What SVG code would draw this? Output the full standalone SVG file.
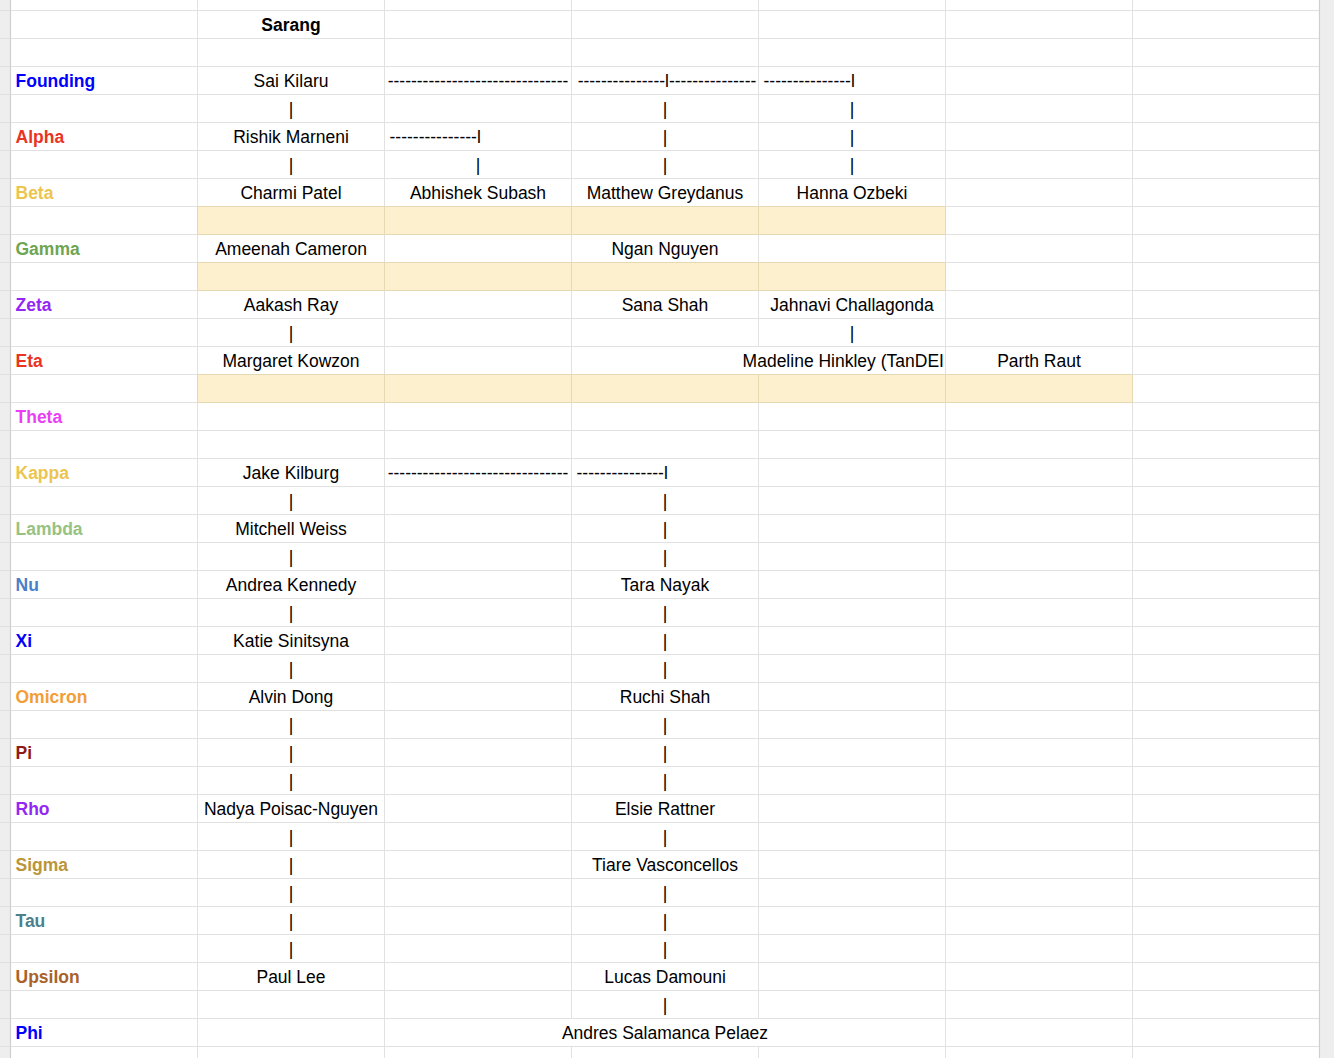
<svg xmlns="http://www.w3.org/2000/svg" width="1334" height="1058" viewBox="0 0 1334 1058">
<style>
text{font-family:"Liberation Sans",Arial,Helvetica,sans-serif;font-size:17.5px;fill:#000}
.n{text-anchor:middle}
.s{text-anchor:start}
.lb{font-weight:bold}
.grid{stroke:#e1e1e1;stroke-width:1;fill:none}
.edge{stroke:#cfcfcf;stroke-width:1.2;fill:none}
.hl{fill:#fcf0cf;stroke:#e6d8b0;stroke-width:1}
</style>
<defs>
<clipPath id="clipEta"><rect x="571.5" y="346.5" width="374" height="28"/></clipPath>
</defs>
<rect x="0" y="0" width="1334" height="1058" fill="#ffffff"/>
<rect x="0" y="0" width="10.5" height="1058" fill="#eeeeee"/>
<rect x="1319.5" y="0" width="14.5" height="1058" fill="#eeeeee"/>
<g id="highlights">
<rect class="hl" x="197.5" y="206.5" width="187" height="28"/>
<rect class="hl" x="384.5" y="206.5" width="187" height="28"/>
<rect class="hl" x="571.5" y="206.5" width="187" height="28"/>
<rect class="hl" x="758.5" y="206.5" width="187" height="28"/>
<rect class="hl" x="197.5" y="262.5" width="187" height="28"/>
<rect class="hl" x="384.5" y="262.5" width="187" height="28"/>
<rect class="hl" x="571.5" y="262.5" width="187" height="28"/>
<rect class="hl" x="758.5" y="262.5" width="187" height="28"/>
<rect class="hl" x="197.5" y="374.5" width="187" height="28"/>
<rect class="hl" x="384.5" y="374.5" width="187" height="28"/>
<rect class="hl" x="571.5" y="374.5" width="187" height="28"/>
<rect class="hl" x="758.5" y="374.5" width="187" height="28"/>
<rect class="hl" x="945.5" y="374.5" width="187" height="28"/>
</g>
<g id="grid">
<path class="grid" d="M0 10.5H1320M0 38.5H1320M0 66.5H1320M0 94.5H1320M0 122.5H1320M0 150.5H1320M0 178.5H1320M0 206.5H197M946 206.5H1320M0 234.5H197M946 234.5H1320M0 262.5H197M946 262.5H1320M0 290.5H197M946 290.5H1320M0 318.5H1320M0 346.5H1320M0 374.5H197M1133 374.5H1320M0 402.5H197M1133 402.5H1320M0 430.5H1320M0 458.5H1320M0 486.5H1320M0 514.5H1320M0 542.5H1320M0 570.5H1320M0 598.5H1320M0 626.5H1320M0 654.5H1320M0 682.5H1320M0 710.5H1320M0 738.5H1320M0 766.5H1320M0 794.5H1320M0 822.5H1320M0 850.5H1320M0 878.5H1320M0 906.5H1320M0 934.5H1320M0 962.5H1320M0 990.5H1320M0 1018.5H1320M0 1046.5H1320"/>
<path class="grid" d="M197.5 0V206.5M197.5 234.5V262.5M197.5 290.5V374.5M197.5 402.5V1058M384.5 0V206.5M384.5 234.5V262.5M384.5 290.5V374.5M384.5 402.5V1058M571.5 0V206.5M571.5 234.5V262.5M571.5 290.5V374.5M571.5 402.5V1018.5M571.5 1046.5V1058M758.5 0V206.5M758.5 234.5V262.5M758.5 290.5V346.5M758.5 402.5V1018.5M758.5 1046.5V1058M945.5 0V206.5M945.5 234.5V262.5M945.5 290.5V374.5M945.5 402.5V1058M1132.5 0V374.5M1132.5 402.5V1058"/>
<path class="edge" d="M10.5 0V1058M1319.5 0V1058"/>
</g>
<g id="labels" class="lb">
<text x="15.5" y="87" fill="#0000ff" style="fill:#0000ff">Founding</text>
<text x="15.5" y="143" style="fill:#ea3323">Alpha</text>
<text x="15.5" y="199" style="fill:#ecc54f">Beta</text>
<text x="15.5" y="255" style="fill:#6ea551">Gamma</text>
<text x="15.5" y="311" style="fill:#9327f5">Zeta</text>
<text x="15.5" y="367" style="fill:#ea3323">Eta</text>
<text x="15.5" y="423" style="fill:#ea3ff7">Theta</text>
<text x="15.5" y="479" style="fill:#ecc54f">Kappa</text>
<text x="15.5" y="535" style="fill:#97c282">Lambda</text>
<text x="15.5" y="591" style="fill:#4a80c8">Nu</text>
<text x="15.5" y="647" style="fill:#0000ff">Xi</text>
<text x="15.5" y="703" style="fill:#f29d38">Omicron</text>
<text x="15.5" y="759" style="fill:#8e1b17">Pi</text>
<text x="15.5" y="815" style="fill:#9327f5">Rho</text>
<text x="15.5" y="871" style="fill:#bb953a">Sigma</text>
<text x="15.5" y="927" style="fill:#4d7f8c">Tau</text>
<text x="15.5" y="983" style="fill:#a9622a">Upsilon</text>
<text x="15.5" y="1039" style="fill:#0000ff">Phi</text>
</g>
<g id="header"><text class="n lb" x="291" y="31">Sarang</text></g>
<g id="nodes">
<g id="n-sai"><text class="n" x="291" y="87">Sai Kilaru</text></g>
<g id="n-rishik"><text class="n" x="291" y="143">Rishik Marneni</text></g>
<g id="n-charmi"><text class="n" x="291" y="199">Charmi Patel</text></g>
<g id="n-abhishek"><text class="n" x="478" y="199">Abhishek Subash</text></g>
<g id="n-matthew"><text class="n" x="665" y="199">Matthew Greydanus</text></g>
<g id="n-hanna"><text class="n" x="852" y="199">Hanna Ozbeki</text></g>
<g id="n-ameenah"><text class="n" x="291" y="255">Ameenah Cameron</text></g>
<g id="n-ngan"><text class="n" x="665" y="255">Ngan Nguyen</text></g>
<g id="n-aakash"><text class="n" x="291" y="311">Aakash Ray</text></g>
<g id="n-sana"><text class="n" x="665" y="311">Sana Shah</text></g>
<g id="n-jahnavi"><text class="n" x="852" y="311">Jahnavi Challagonda</text></g>
<g id="n-margaret"><text class="n" x="291" y="367">Margaret Kowzon</text></g>
<g id="n-madeline"><text class="s" x="742.6" y="367" clip-path="url(#clipEta)">Madeline Hinkley (TanDEI</text></g>
<g id="n-parth"><text class="n" x="1039" y="367">Parth Raut</text></g>
<g id="n-jake"><text class="n" x="291" y="479">Jake Kilburg</text></g>
<g id="n-mitchell"><text class="n" x="291" y="535">Mitchell Weiss</text></g>
<g id="n-andrea"><text class="n" x="291" y="591">Andrea Kennedy</text></g>
<g id="n-tara"><text class="n" x="665" y="591">Tara Nayak</text></g>
<g id="n-katie"><text class="n" x="291" y="647">Katie Sinitsyna</text></g>
<g id="n-alvin"><text class="n" x="291" y="703">Alvin Dong</text></g>
<g id="n-ruchi"><text class="n" x="665" y="703">Ruchi Shah</text></g>
<g id="n-nadya"><text class="n" x="291" y="815">Nadya Poisac-Nguyen</text></g>
<g id="n-elsie"><text class="n" x="665" y="815">Elsie Rattner</text></g>
<g id="n-tiare"><text class="n" x="665" y="871">Tiare Vasconcellos</text></g>
<g id="n-paul"><text class="n" x="291" y="983">Paul Lee</text></g>
<g id="n-lucas"><text class="n" x="665" y="983">Lucas Damouni</text></g>
<g id="n-andres"><text class="n" x="665" y="1039">Andres Salamanca Pelaez</text></g>
</g>
<g id="connectors">
<text class="n" x="478" y="87">-------------------------------</text>
<text class="n" x="667" y="87">---------------l---------------</text>
<text class="s" x="763.5" y="87">---------------l</text>
<text class="s" x="389.5" y="143">---------------l</text>
<text class="n" x="478" y="479">-------------------------------</text>
<text class="s" x="576.5" y="479">---------------l</text>
<text class="n" x="291" y="115">|</text><text class="n" x="665" y="115">|</text><text class="n" x="852" y="115">|</text>
<text class="n" x="665" y="143">|</text><text class="n" x="852" y="143">|</text>
<text class="n" x="291" y="171">|</text><text class="n" x="478" y="171">|</text><text class="n" x="665" y="171">|</text><text class="n" x="852" y="171">|</text>
<text class="n" x="291" y="339">|</text><text class="n" x="852" y="339">|</text>
<text class="n" x="291" y="507">|</text><text class="n" x="665" y="507">|</text>
<text class="n" x="665" y="535">|</text>
<text class="n" x="291" y="563">|</text><text class="n" x="665" y="563">|</text>
<text class="n" x="291" y="619">|</text><text class="n" x="665" y="619">|</text>
<text class="n" x="665" y="647">|</text>
<text class="n" x="291" y="675">|</text><text class="n" x="665" y="675">|</text>
<text class="n" x="291" y="731">|</text><text class="n" x="665" y="731">|</text>
<text class="n" x="291" y="759">|</text><text class="n" x="665" y="759">|</text>
<text class="n" x="291" y="787">|</text><text class="n" x="665" y="787">|</text>
<text class="n" x="291" y="843">|</text><text class="n" x="665" y="843">|</text>
<text class="n" x="291" y="871">|</text>
<text class="n" x="291" y="899">|</text><text class="n" x="665" y="899">|</text>
<text class="n" x="291" y="927">|</text><text class="n" x="665" y="927">|</text>
<text class="n" x="291" y="955">|</text><text class="n" x="665" y="955">|</text>
<text class="n" x="665" y="1011">|</text>
</g>
</svg>
